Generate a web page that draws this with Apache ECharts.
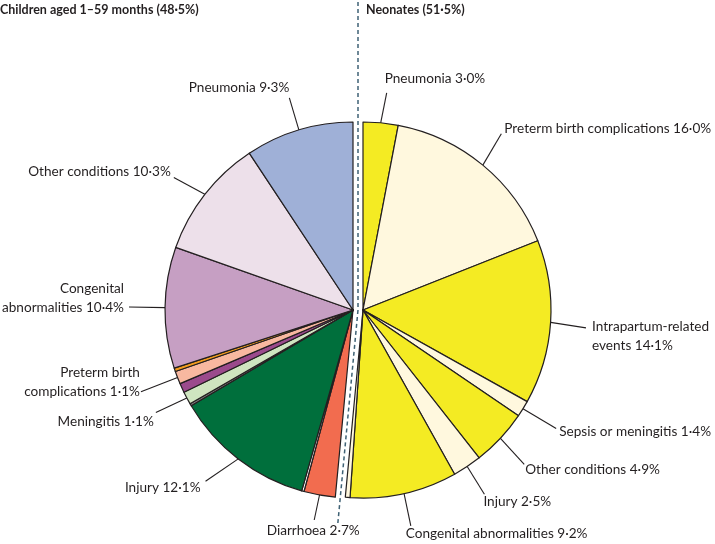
<!DOCTYPE html>
<html><head><meta charset="utf-8">
<script src="https://cdn.jsdelivr.net/npm/echarts@6/dist/echarts.min.js"></script>
<style>html,body{margin:0;padding:0;background:#fff}#c{width:715px;height:544px}</style>
</head><body><div id="c"></div>
<script>
// ---- data ----
const groupTitles = ['Children aged 1–59 months (48·5%)', 'Neonates (51·5%)'];

// Neonates, clockwise from 12 o'clock
const neonateNames = ['Pneumonia','Preterm birth complications','Intrapartum-related events','Sepsis or meningitis','Other conditions','Injury','Congenital abnormalities','Other (small)'];
const neonateValues = [3.0, 16.0, 14.1, 1.4, 4.9, 2.5, 9.2, 0.4];
const neonateLabels = ['Pneumonia 3·0%','Preterm birth complications 16·0%','Intrapartum-related\nevents 14·1%','Sepsis or meningitis 1·4%','Other conditions 4·9%','Injury 2·5%','Congenital abnormalities 9·2%',''];

// Children 1–59 months, clockwise from the split line near 6 o'clock
const childNames = ['Diarrhoea','Other (small a)','Injury','Other (small b)','Meningitis','Other (small c)','Preterm birth complications','Other (small d)','Congenital abnormalities','Other conditions','Pneumonia'];
const childValues = [2.7, 0.2, 12.1, 0.2, 1.1, 0.8, 1.1, 0.3, 10.4, 10.3, 9.3];
const childLabels = ['Diarrhoea 2·7%','','Injury 12·1%','','Meningitis 1·1%','','Preterm birth\ncomplications 1·1%','','Congenital\nabnormalities 10·4%','Other conditions 10·3%','Pneumonia 9·3%'];

// ---- styles ----
const neonateColors = ['#f4eb23','#fff8de','#f4eb23','#fff8de','#f4eb23','#fff8de','#f4eb23','#fff8de'];
const childColors = ['#f26c4f','#ffffff','#006f3c','#7e7e7e','#cfe5c0','#9b4a8c','#f8b8a0','#f39c1f','#c69fc3','#ede0ea','#9fb0d7'];
// [lineDx, lineDy, textDx, textDy, align, verticalAlign] relative to slice edge point
const neonateLabelPos = [
  [6,-30, 4,-44,'left','middle'],
  [18.5,-31.4, 21.5,-36.4,'left','middle'],
  [35.4,5.5, 41.4,-5,'left','top'],
  [33.2,19.8, 36.2,22.8,'left','middle'],
  [23.8,26.1, 24.8,31.1,'left','middle'],
  [17.2,27.7, 16.2,34.7,'left','middle'],
  [6.8,32.5, 1.8,40.5,'left','middle'],
  null
];
const childLabelPos = [
  [-5.3,25, -6.3,36,'center','middle'],
  null,
  [-32.7,22.3, -37.7,28.3,'right','middle'],
  null,
  [-31,14.5, -33,23.5,'right','middle'],
  null,
  [-36.6,14.1, -37.6,4.6,'right','middle'],
  null,
  [-36,-0.6, -41,-9.1,'right','middle'],
  [-31,-16.7, -34,-22.7,'right','middle'],
  [-9.5,-32, -9.5,-42,'right','middle']
];
const INK = '#231f20';
const FONT = 'Lato, "Open Sans", sans-serif';
const R = 188, CY = 310, CX_L = 353, CX_R = 363;

const sum = a => a.reduce((s, v) => s + v, 0);
const nSum = sum(neonateValues), cSum = sum(childValues);

function slice(name, value, color, label) {
  return {
    name, value,
    itemStyle: { color, borderColor: INK, borderWidth: 1.2 },
    label: { show: !!label, formatter: label },
    labelLine: { show: !!label }
  };
}
function filler(value) {
  return {
    name: 'gap', value,
    itemStyle: { color: 'rgba(0,0,0,0)', borderWidth: 0 },
    label: { show: false }, labelLine: { show: false },
    emphasis: { disabled: true }, tooltip: { show: false }
  };
}
function layoutFn(table, offset) {
  return function (params) {
    const s = table[params.dataIndex - offset];
    if (!s || !params.labelLinePoints) return {};
    const p0 = params.labelLinePoints[0];
    const p1 = [p0[0] + s[0], p0[1] + s[1]];
    return {
      x: p0[0] + s[2], y: p0[1] + s[3], align: s[4], verticalAlign: s[5],
      labelLinePoints: [p0, p1, p1]
    };
  };
}
const common = {
  type: 'pie', radius: R, startAngle: 90, clockwise: true,
  avoidLabelOverlap: false, silent: true, animation: false,
  label: { position: 'outside', color: INK, fontFamily: FONT, fontSize: 13.6, lineHeight: 19 },
  labelLine: { show: true, length: 10, length2: 0, smooth: false, lineStyle: { color: INK, width: 1.1 } }
};

const neonateData = neonateNames.map((n, i) => slice(n, neonateValues[i], neonateColors[i], neonateLabels[i]));
neonateData.push(filler(cSum));
const childData = [filler(nSum)].concat(childNames.map((n, i) => slice(n, childValues[i], childColors[i], childLabels[i])));

// dashed divider: vertical above, along the split angle below
const midX = (CX_L + CX_R) / 2;
const splitAng = nSum / (nSum + cSum) * 2 * Math.PI;
const L = 215;
const divider = [[midX, 2], [midX, CY], [midX + L * Math.sin(splitAng), CY - L * Math.cos(splitAng)]];

const chart = echarts.init(document.getElementById('c'), null, { renderer: 'canvas' });
chart.setOption({
  backgroundColor: '#fff',
  animation: false,
  title: [
    { text: groupTitles[0], left: 0, top: 3, padding: 0, textStyle: { fontFamily: '"Liberation Sans Narrow", Lato, sans-serif', fontWeight: 'bold', fontSize: 12.5, color: INK } },
    { text: groupTitles[1], left: 366, top: 3, padding: 0, textStyle: { fontFamily: '"Liberation Sans Narrow", Lato, sans-serif', fontWeight: 'bold', fontSize: 12.5, color: INK } }
  ],
  series: [
    Object.assign({}, common, { name: 'Neonates', center: [CX_R, CY], data: neonateData, labelLayout: layoutFn(neonateLabelPos, 0) }),
    Object.assign({}, common, { name: 'Children', center: [CX_L, CY], data: childData, labelLayout: layoutFn(childLabelPos, 1) })
  ],
  graphic: [{
    type: 'polyline', z: 100, silent: true,
    shape: { points: divider },
    style: { stroke: '#3f6275', lineWidth: 1.5, lineDash: [4, 3], fill: null }
  }]
});
</script></body></html>
